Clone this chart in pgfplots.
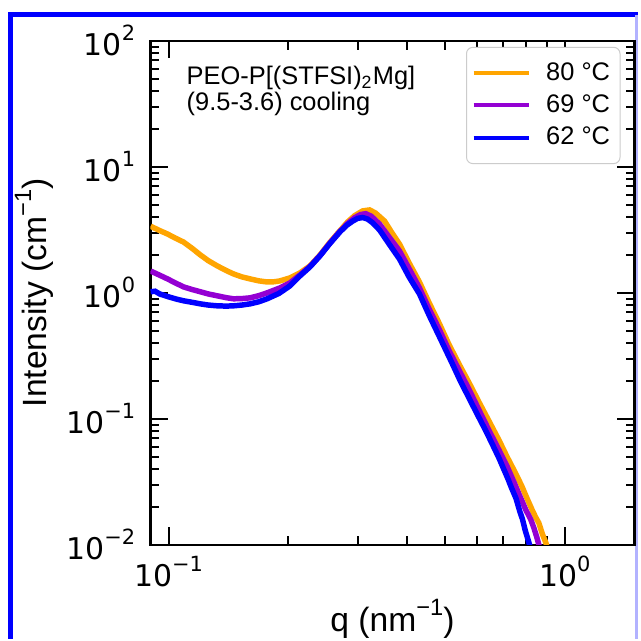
\documentclass[border=0pt]{standalone}
\usepackage{fontspec}
\setmainfont{Liberation Sans}
\newfontfamily\dejavu{DejaVu Sans}
\usepackage{pgfplots}
\pgfplotsset{compat=1.18}
\definecolor{c80}{HTML}{FFA500}
\definecolor{c69}{HTML}{9400D3}
\definecolor{c62}{HTML}{0000FF}
\definecolor{frameblue}{HTML}{0000FF}
\newcommand{\tk}[1]{{\dejavu\fontsize{12}{12}\selectfont 10\raisebox{0.5em}{\fontsize{8.4}{8.4}\selectfont #1}}}
\newcommand{\sups}[1]{\raisebox{0.45em}{\fontsize{9.5}{9.5}\selectfont #1}}

\pgfplotstableread{
q I
0.0901 3.38
0.0950 3.12
0.0994 2.93
0.1040 2.72
0.1091 2.53
0.1150 2.24
0.1203 2.00
0.1260 1.80
0.1328 1.635
0.1400 1.50
0.1459 1.413
0.1530 1.34
0.1607 1.29
0.1690 1.245
0.1773 1.22
0.1850 1.225
0.1911 1.244
0.2025 1.314
0.2146 1.44
0.2274 1.635
0.2409 1.99
0.2550 2.50
0.2705 3.10
0.2830 3.65
0.2950 4.10
0.3090 4.47
0.3218 4.55
0.3330 4.30
0.3509 3.71
0.3650 3.05
0.3827 2.44
0.4050 1.72
0.4297 1.22
0.4550 0.83
0.4826 0.569
0.5100 0.39
0.5417 0.2697
0.5750 0.190
0.6080 0.135
0.6450 0.095
0.6826 0.0676
0.7150 0.050
0.7443 0.0392
0.7650 0.0330
0.7800 0.0290
0.8025 0.0235
0.8300 0.0185
0.8450 0.0165
0.8603 0.0149
0.8780 0.0122
0.8960 0.0104
0.9115 0.0087
}\dataeighty

\pgfplotstableread{
q I
0.0901 1.49
0.0950 1.38
0.0994 1.29
0.1040 1.20
0.1091 1.115
0.1150 1.06
0.1203 1.02
0.1260 0.98
0.1328 0.947
0.1400 0.915
0.1459 0.897
0.1530 0.90
0.1607 0.913
0.1690 0.95
0.1773 1.00
0.1911 1.095
0.2025 1.20
0.2146 1.388
0.2274 1.62
0.2409 1.97
0.2550 2.47
0.2705 3.07
0.2830 3.55
0.2950 3.95
0.3050 4.18
0.3145 4.25
0.3250 4.05
0.3410 3.51
0.3600 2.78
0.3827 2.15
0.4050 1.55
0.4297 1.095
0.4550 0.74
0.4826 0.51
0.5100 0.35
0.5417 0.2417
0.5750 0.168
0.6080 0.1168
0.6450 0.080
0.6826 0.0564
0.7150 0.0420
0.7443 0.0315
0.7700 0.0245
0.7980 0.0189
0.8200 0.0160
0.8360 0.0136
0.8500 0.0115
0.8603 0.0100
0.8700 0.0087
}\datasixtynine

\pgfplotstableread{
q I
0.0901 1.02
0.0925 1.03
0.0950 0.98
0.1000 0.93
0.1050 0.89
0.1091 0.865
0.1150 0.84
0.1203 0.818
0.1260 0.80
0.1328 0.789
0.1400 0.785
0.1459 0.789
0.1530 0.80
0.1607 0.818
0.1690 0.85
0.1773 0.897
0.1900 0.99
0.2025 1.136
0.2146 1.363
0.2274 1.605
0.2409 1.961
0.2550 2.45
0.2705 3.035
0.2810 3.42
0.2916 3.71
0.3000 3.90
0.3090 3.96
0.3180 3.85
0.3280 3.58
0.3410 3.15
0.3600 2.45
0.3827 1.857
0.4050 1.33
0.4297 0.982
0.4550 0.66
0.4826 0.449
0.5200 0.2747
0.5450 0.200
0.5739 0.1452
0.6030 0.107
0.6331 0.0796
0.6580 0.062
0.6826 0.0487
0.7050 0.0385
0.7200 0.0330
0.7350 0.0280
0.7530 0.0235
0.7700 0.0185
0.7820 0.0160
0.7950 0.0130
0.8121 0.0104
0.8250 0.0088
}\datasixtytwo

\begin{document}
\begin{tikzpicture}
% page = 640 x 641 reference pixels, 0.4pt each
\fill[white] (-60.4pt,-37.6pt) rectangle (195.6pt,218.8pt);
\begin{scope}[x=0.4pt,y=-0.4pt,shift={(-60.4pt,218.8pt)}]
\draw[frameblue, line width=2pt] (10.5,641) -- (10.5,15) -- (640,15);
\draw[frameblue!30, line width=1.2pt] (638.5,15) -- (638.5,641);
\end{scope}
\begin{axis}[
  xmode=log, ymode=log,
  width=194.4pt, height=202.4pt, scale only axis,
  xmin=0.09, xmax=1.5, ymin=1e-2, ymax=1e2,
  xtick={0.1,1}, xticklabels={\tk{−1},\tk{0}},
  ytick={1e-2,1e-1,1,10,100},
  yticklabels={\tk{−2},\tk{−1},\tk{0},\tk{1},\tk{2}},
  minor xtick={0.2,0.3,0.4,0.5,0.6,0.7,0.8,0.9},
  minor ytick={0.02,0.03,0.04,0.05,0.06,0.07,0.08,0.09,
               0.2,0.3,0.4,0.5,0.6,0.7,0.8,0.9,
               2,3,4,5,6,7,8,9,20,30,40,50,60,70,80,90},
  tick align=inside,
  major tick length=7pt, minor tick length=3.6pt,
  tick style={black, line width=0.8pt},
  axis line style={line width=0.9pt},
  yticklabel style={xshift=-2.6pt},
  xticklabel style={yshift=-1pt},
  xlabel={q (nm\sups{−1})}, ylabel={Intensity (cm\sups{−1})},
  label style={font=\fontsize{13.5}{15}\selectfont},
  xlabel style={inner sep=0pt, yshift=-1.5pt},
  ylabel shift=-1.6pt,
  legend style={at={(0.971,0.988)}, anchor=north east, draw=black!20,
    rounded corners=2.5pt, font=\fontsize{10.2}{12}\selectfont,
    inner xsep=2pt, inner ysep=4pt, row sep=0.4pt,
    /tikz/every odd column/.append style={column sep=4pt}},
  legend cell align=left,
  legend image code/.code={\draw[#1, line width=1.6pt] (0pt,0pt) -- (22.4pt,0pt);},
]
\addplot[c80, line width=2.2pt] table[x=q, y=I] {\dataeighty};
\addlegendentry{80 °C}
\addplot[c69, line width=2.2pt] table[x=q, y=I] {\datasixtynine};
\addlegendentry{69 °C}
\addplot[c62, line width=2.2pt] table[x=q, y=I] {\datasixtytwo};
\addlegendentry{62 °C}
\node[anchor=north west, align=left, inner sep=0pt,
  font=\fontsize{10.2}{10.2}\selectfont] at (rel axis cs:0.074,0.950)
  {PEO-P[(STFSI)\textsubscript{2}Mg]\\(9.5-3.6) cooling};
\end{axis}
\end{tikzpicture}
\end{document}
